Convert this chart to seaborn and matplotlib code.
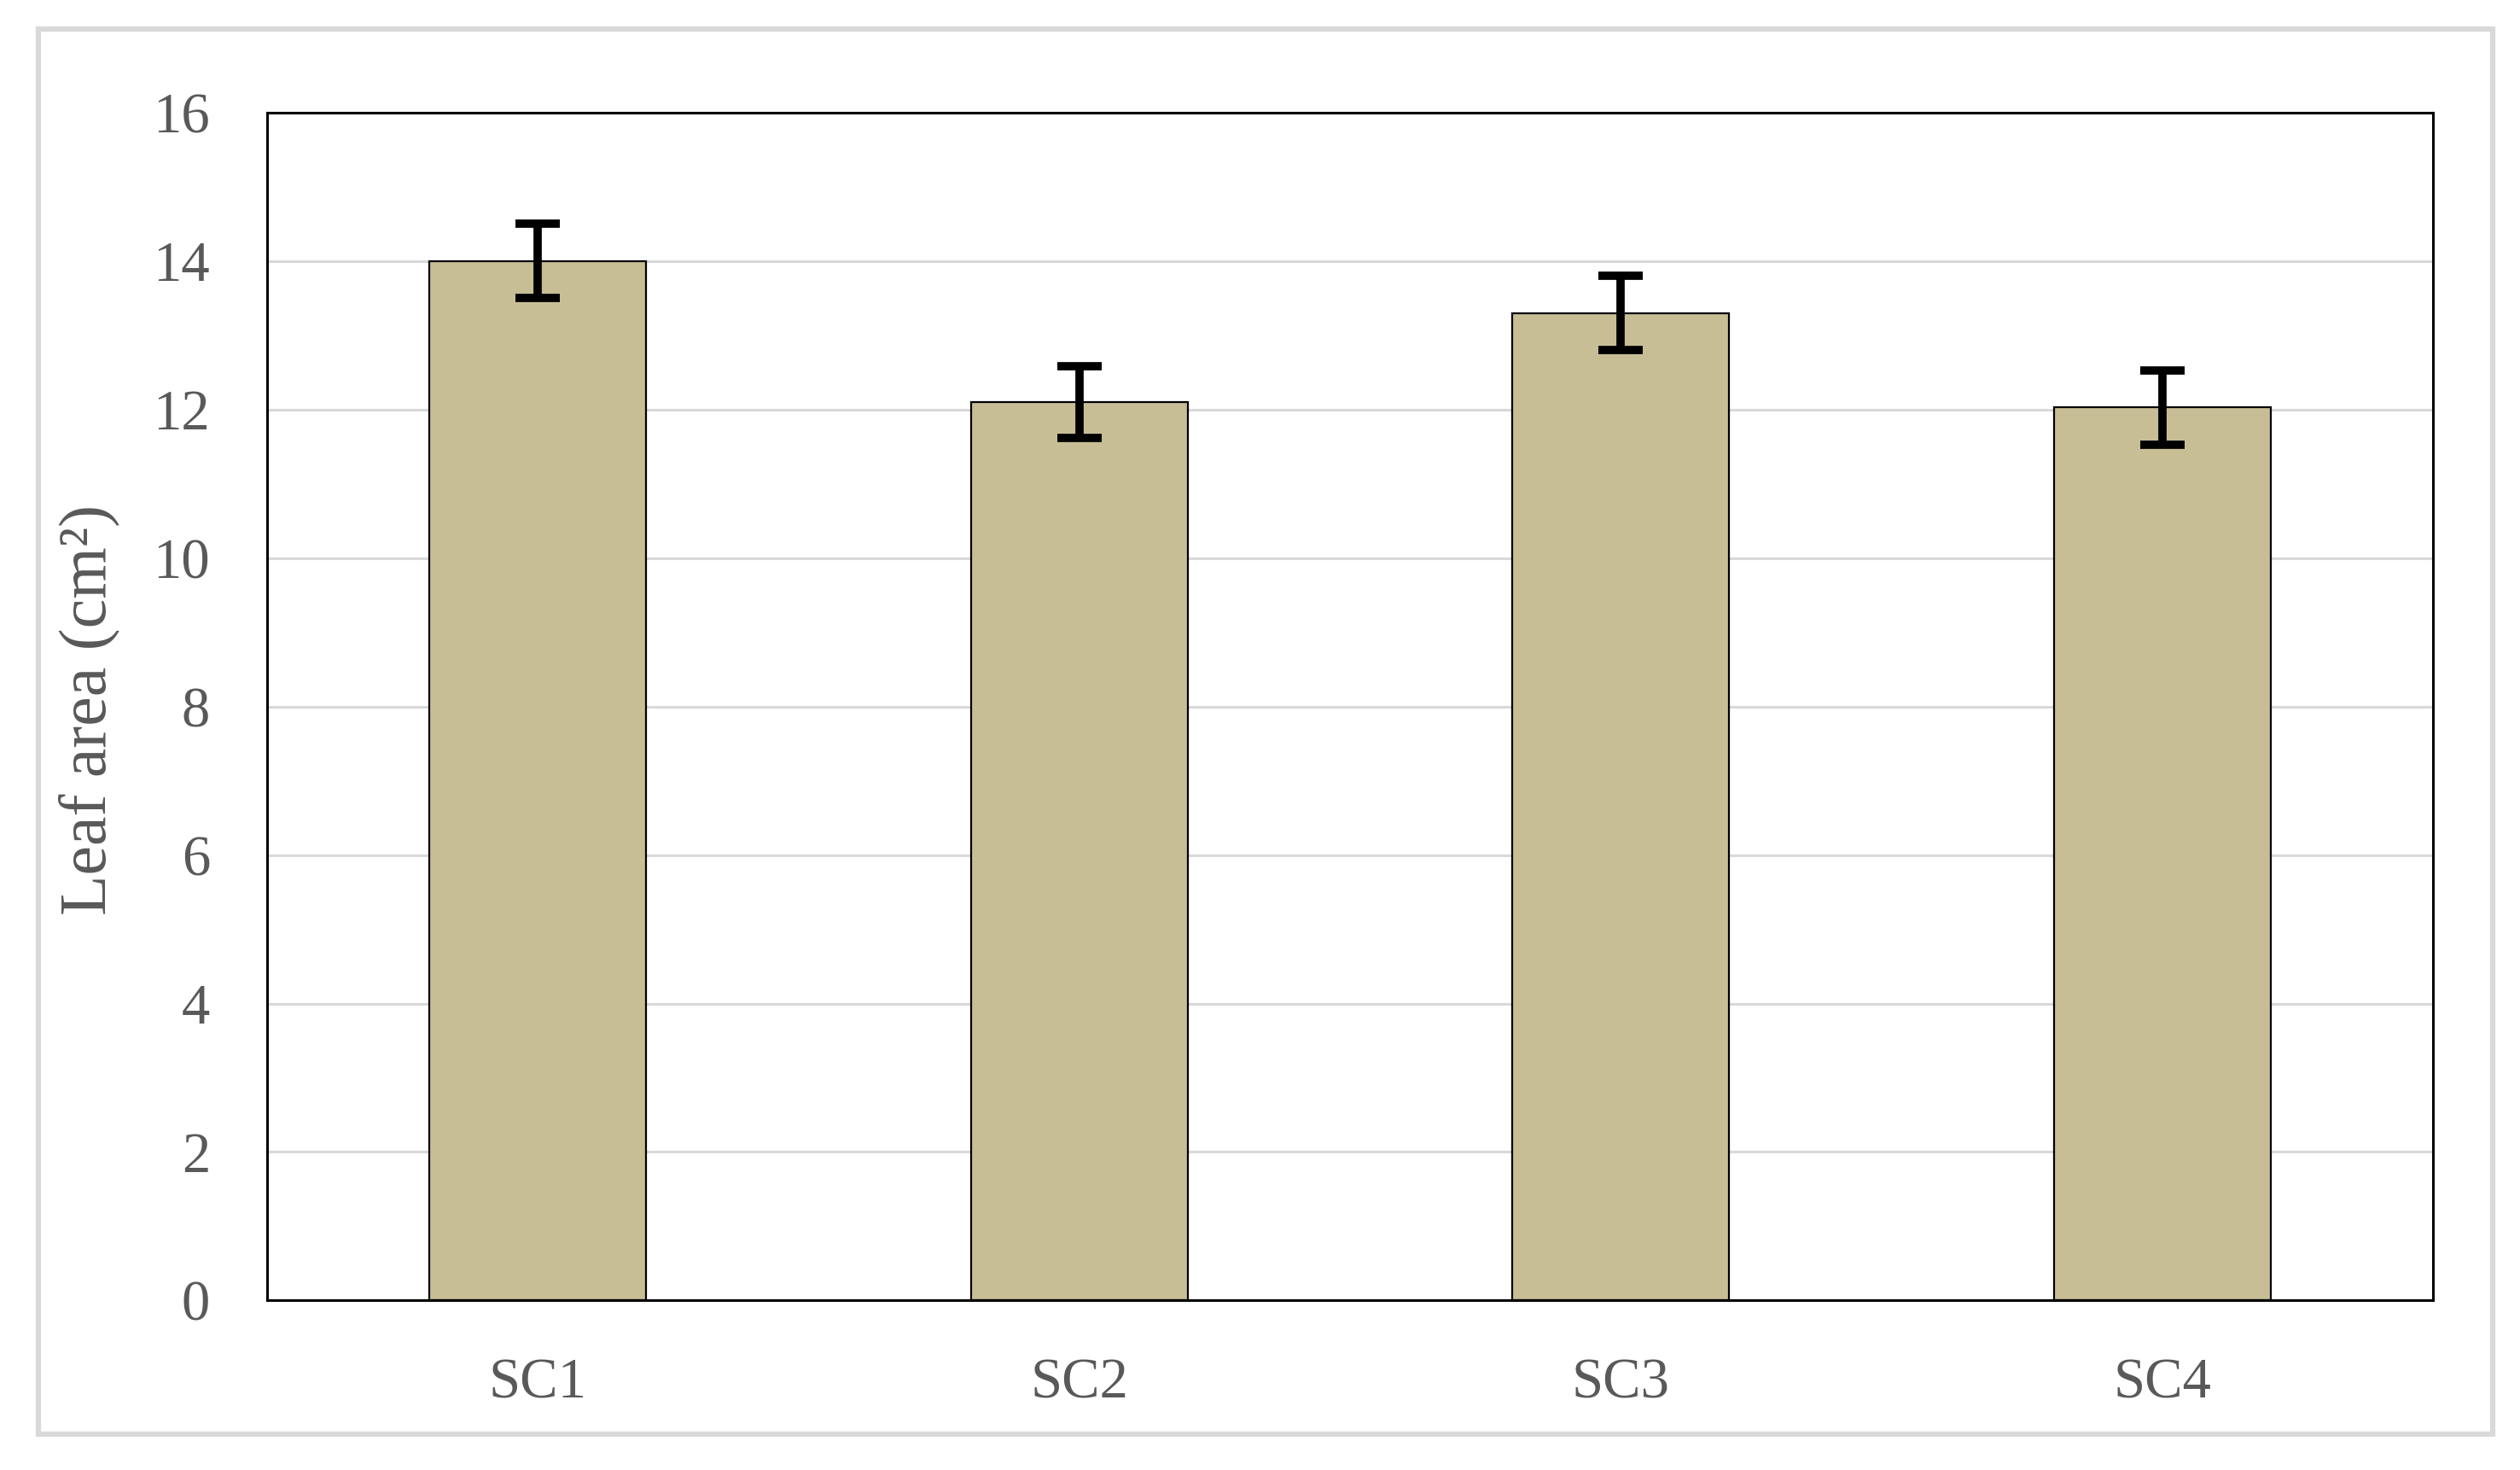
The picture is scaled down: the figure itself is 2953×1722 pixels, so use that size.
import matplotlib
matplotlib.use("Agg")
import matplotlib.pyplot as plt
import matplotlib.patches as patches
import pandas as pd
import seaborn as sns

# data
categories = ["SC1", "SC2", "SC3", "SC4"]
leaf_area = [14.0, 12.1, 13.3, 12.03]
leaf_err = [0.5, 0.48, 0.5, 0.5]

df = pd.DataFrame({"Treatment": categories, "Leaf area": leaf_area, "err": leaf_err})

sns.set_style("white")
plt.rcParams['font.family'] = ['Liberation Serif', 'DejaVu Serif']

text_col = "#595959"
bar_col = "#C8BE96"

fig = plt.figure(figsize=(29.53, 17.22), dpi=100)
ax = fig.add_axes([0.1059, 0.1153, 0.8596, 0.8082])

sns.barplot(data=df, x="Treatment", y="Leaf area", color=bar_col, saturation=1, width=0.4,
            edgecolor="black", linewidth=1.6, errorbar=None, ax=ax, zorder=2)

# error bars on the category positions
xpos = ax.get_xticks()
ax.errorbar(xpos, df["Leaf area"], yerr=df["err"], fmt="none", ecolor="black",
            elinewidth=7, capsize=19, capthick=7, zorder=3)

ax.set_ylim(0, 16)
ax.set_yticks(range(0, 17, 2))
ax.set_xlim(-0.5, 3.5)
ax.yaxis.grid(True, color="#d9d9d9", linewidth=2.2, zorder=0)
ax.set_axisbelow(True)

for s in ax.spines.values():
    s.set_visible(True)
    s.set_color("black")
    s.set_linewidth(2.2)

ax.tick_params(axis="both", length=0, labelsize=48, colors=text_col)
ax.tick_params(axis="y", pad=48)
ax.tick_params(axis="x", pad=48)
ax.set_xlabel("")
ax.set_ylabel("Leaf area (cm²)", fontsize=56, color=text_col)
ax.yaxis.set_label_coords(-0.068, 0.497)

# light gray frame around the whole chart
frame = patches.Rectangle((45 / 2953, 1 - 1680 / 1722), (2921 - 45) / 2953, (1680 - 34) / 1722,
                          transform=fig.transFigure, fill=False, edgecolor="#d9d9d9",
                          linewidth=4.5, zorder=0)
fig.patches.append(frame)

fig.savefig("out.png", dpi=100)
